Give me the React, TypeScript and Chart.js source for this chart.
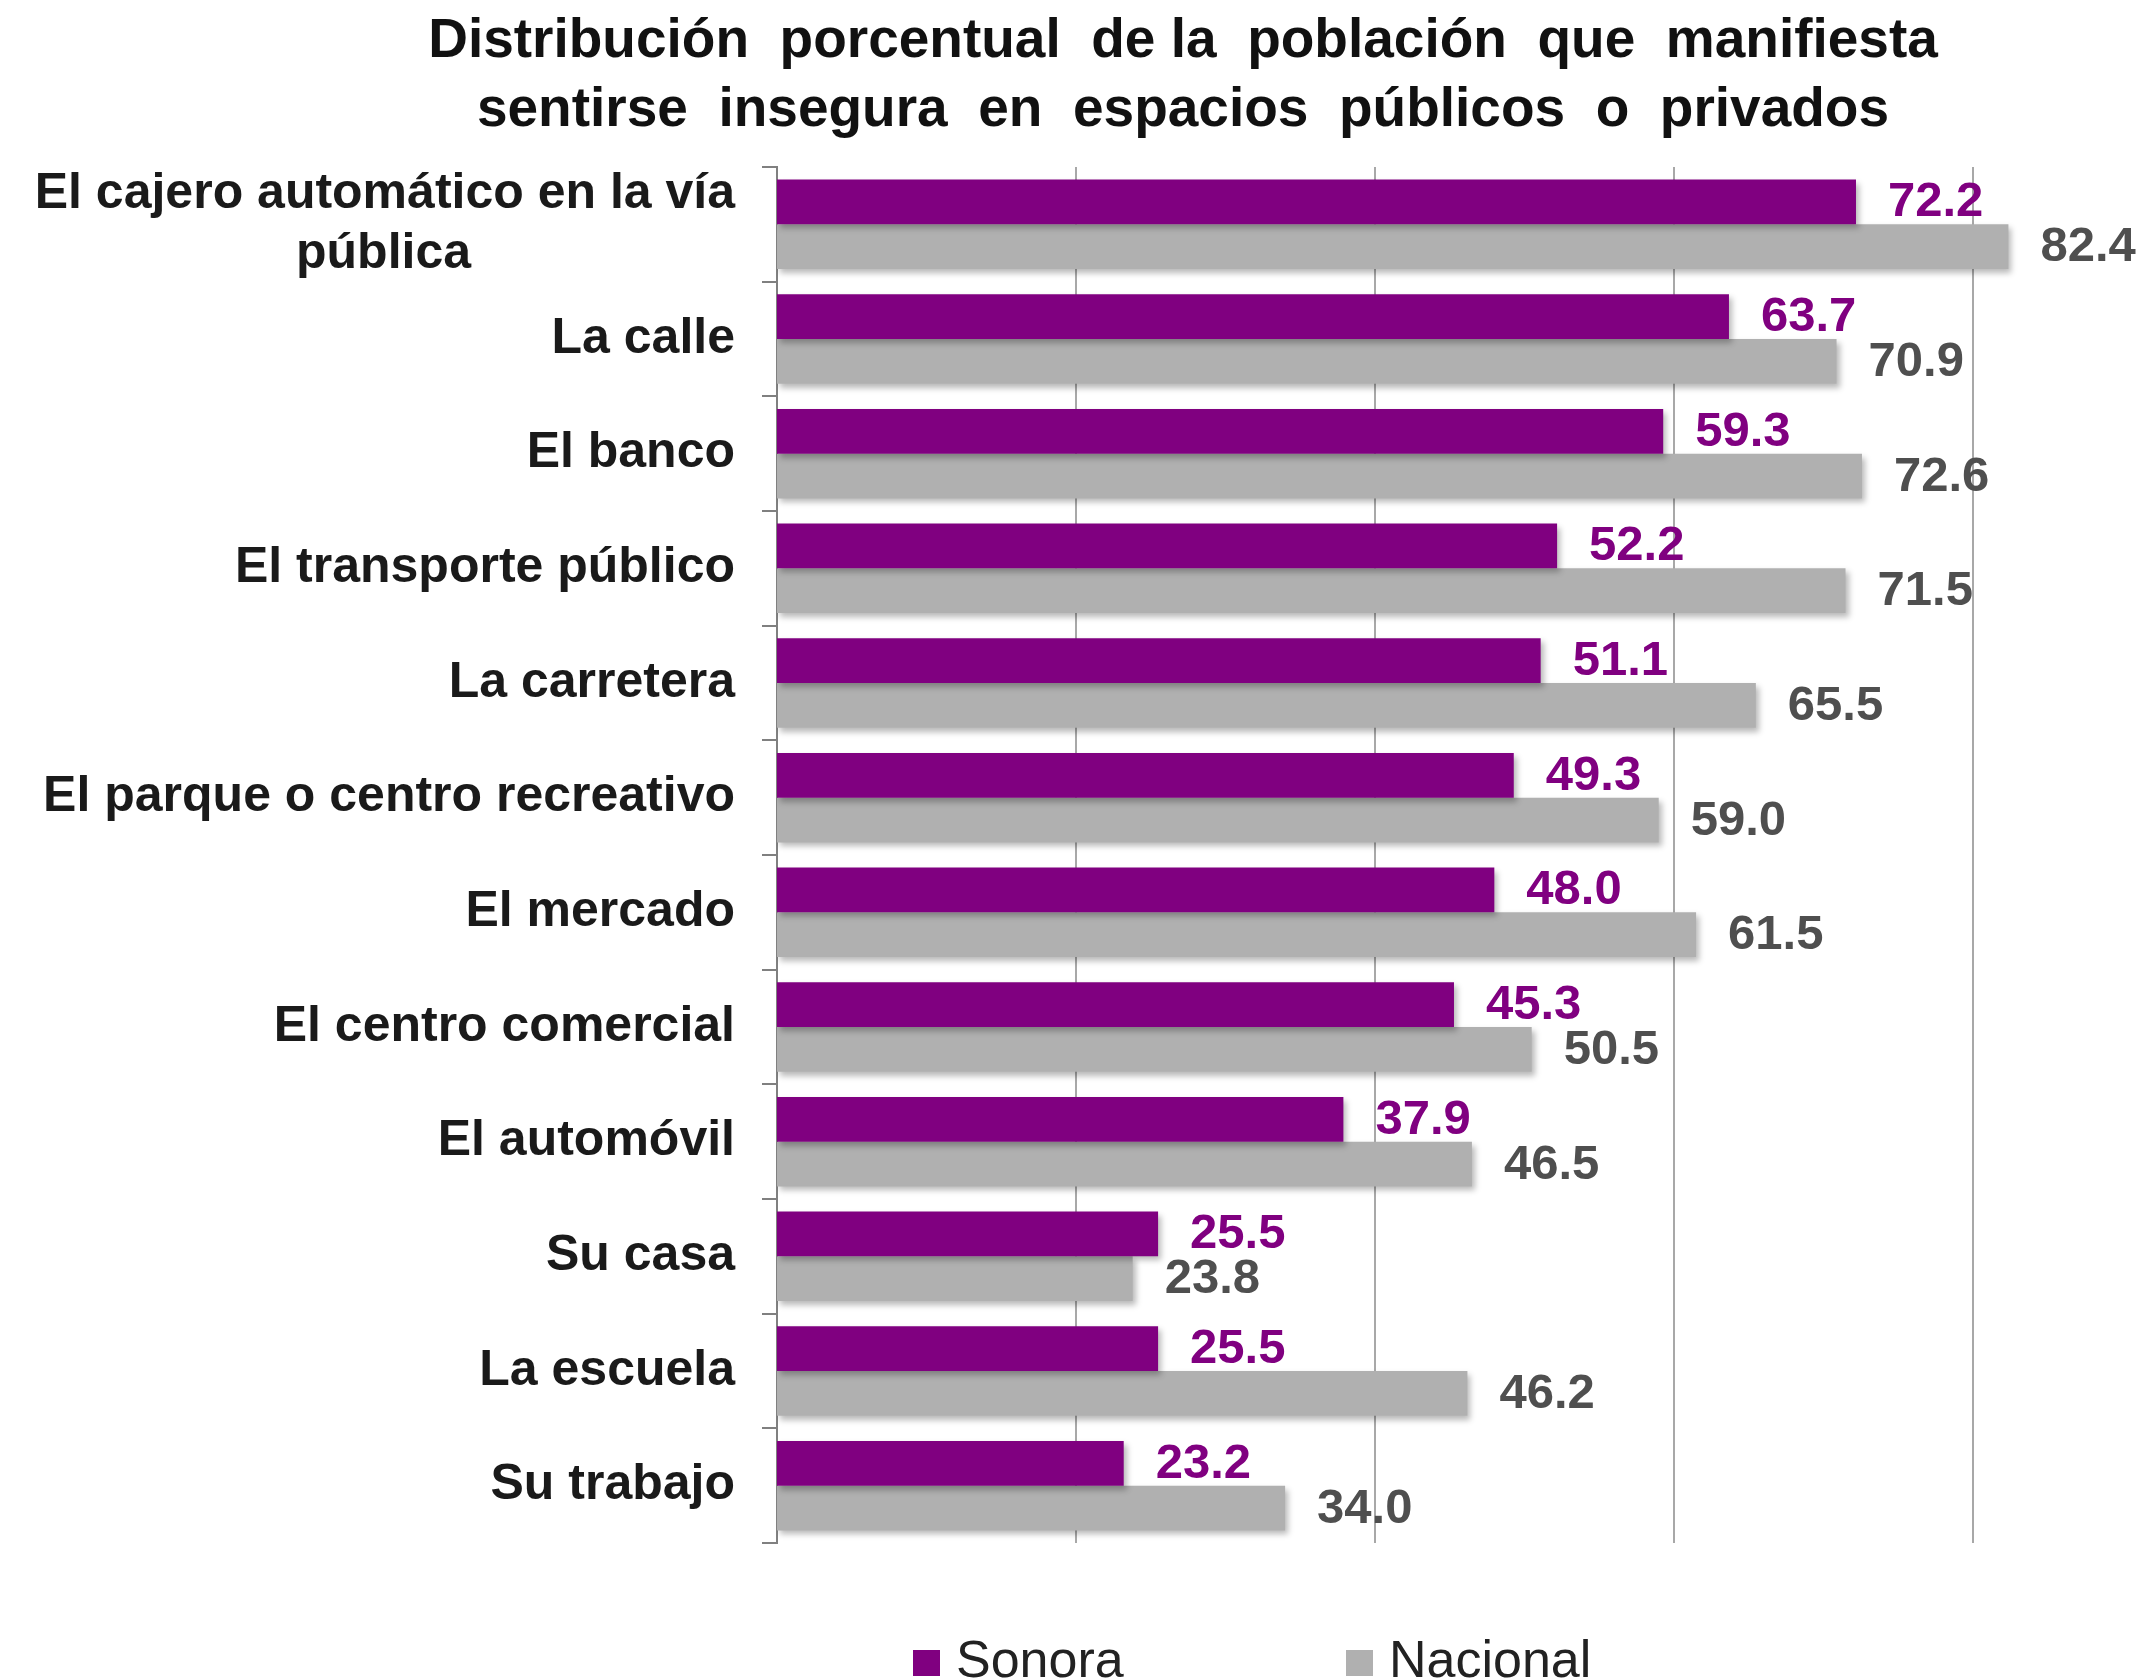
import React, { useEffect, useRef } from "react";
import { Chart, registerables } from "chart.js";

Chart.register(...registerables);

const titleLines = [
  "Distribución  porcentual  de la  población  que  manifiesta",
  "sentirse  insegura  en  espacios  públicos  o  privados",
];

const categories: (string | string[])[] = [
  ["El cajero automático en la vía", "pública"],
  "La calle",
  "El banco",
  "El transporte público",
  "La carretera",
  "El parque o centro recreativo",
  "El mercado",
  "El centro comercial",
  "El automóvil",
  "Su casa",
  "La escuela",
  "Su trabajo",
];

const seriesNames = ["Sonora", "Nacional"];
const sonora = [72.2, 63.7, 59.3, 52.2, 51.1, 49.3, 48.0, 45.3, 37.9, 25.5, 25.5, 23.2];
const nacional = [82.4, 70.9, 72.6, 71.5, 65.5, 59.0, 61.5, 50.5, 46.5, 23.8, 46.2, 34.0];
const barColors = ["#800080", "#b0b0b0"];
const valueLabelColors = ["#800080", "#4f4f4f"];
const gridTicks = [20, 40, 60, 80];

const FONT = "'Liberation Sans', Arial, Helvetica, sans-serif";

const measureCtx = (() => {
  if (typeof document === "undefined") return null;
  const c = document.createElement("canvas");
  return c.getContext("2d");
})();

function centerLines(lines: string[], font: string): string[] {
  if (!measureCtx) return lines;
  measureCtx.font = font;
  const widths = lines.map((l) => measureCtx.measureText(l).width);
  const maxW = Math.max(...widths);
  const sp = measureCtx.measureText(" ").width || 1;
  return lines.map((l, i) => {
    const pad = (maxW - widths[i]) / 2;
    const n = Math.round(pad / sp);
    return l + " ".repeat(n);
  });
}

const titlePlugin = {
  id: "customTitle",
  afterDraw(chart: any) {
    const ctx = chart.ctx;
    ctx.save();
    ctx.font = `bold 55px ${FONT}`;
    ctx.fillStyle = "#111111";
    ctx.textAlign = "center";
    ctx.textBaseline = "alphabetic";
    const cx = 1183;
    const baselines = [57, 126];
    titleLines.forEach((line, i) => ctx.fillText(line, cx, baselines[i]));
    ctx.restore();
  },
};

const shadowPlugin = {
  id: "barShadow",
  beforeDatasetDraw(chart: any) {
    const ctx = chart.ctx;
    ctx.save();
    ctx.shadowColor = "rgba(0,0,0,0.28)";
    ctx.shadowBlur = 6;
    ctx.shadowOffsetX = 3;
    ctx.shadowOffsetY = 4;
  },
  afterDatasetDraw(chart: any) {
    chart.ctx.restore();
  },
};

const valueLabelPlugin = {
  id: "valueLabels",
  afterDatasetsDraw(chart: any) {
    const ctx = chart.ctx;
    ctx.save();
    ctx.font = `bold 49px ${FONT}`;
    ctx.textAlign = "left";
    ctx.textBaseline = "middle";
    chart.data.datasets.forEach((ds: any, di: number) => {
      const meta = chart.getDatasetMeta(di);
      ctx.fillStyle = valueLabelColors[di];
      meta.data.forEach((bar: any, i: number) => {
        const v = ds.data[i];
        ctx.fillText(Number(v).toFixed(1), bar.x + 32, bar.y + 1);
      });
    });
    ctx.restore();
  },
};

const legendPlugin = {
  id: "customLegend",
  afterDraw(chart: any) {
    const ctx = chart.ctx;
    ctx.save();
    ctx.font = `52px ${FONT}`;
    ctx.textAlign = "left";
    ctx.textBaseline = "alphabetic";
    const starts = [913, 1346];
    chart.data.datasets.forEach((ds: any, di: number) => {
      const x = starts[di];
      ctx.fillStyle = ds.backgroundColor;
      ctx.fillRect(x, 1650, 27, 26);
      ctx.fillStyle = "#222222";
      ctx.fillText(ds.label, x + 43, 1677);
    });
    ctx.restore();
  },
};

export default function App() {
  const canvasRef = useRef<HTMLCanvasElement | null>(null);

  useEffect(() => {
    if (!canvasRef.current) return;
    const chart = new Chart(canvasRef.current, {
      type: "bar",
      data: {
        labels: categories,
        datasets: [
          {
            label: seriesNames[0],
            data: sonora,
            backgroundColor: barColors[0],
            borderWidth: 0,
            categoryPercentage: 0.78,
            barPercentage: 1.0,
          },
          {
            label: seriesNames[1],
            data: nacional,
            backgroundColor: barColors[1],
            borderWidth: 0,
            categoryPercentage: 0.78,
            barPercentage: 1.0,
          },
        ],
      },
      options: {
        indexAxis: "y",
        responsive: false,
        animation: false,
        devicePixelRatio: 1,
        layout: { padding: { top: 167, bottom: 137, left: 0, right: 24 } },
        plugins: {
          legend: { display: false },
          title: { display: false },
          tooltip: { enabled: false },
        },
        scales: {
          x: {
            min: 0,
            max: 90,
            afterBuildTicks: (scale: any) => {
              scale.ticks = gridTicks.map((v) => ({ value: v }));
            },
            ticks: { display: false },
            grid: {
              display: true,
              drawTicks: false,
              color: "#a8a8a8",
              lineWidth: 2,
            },
            border: { display: false },
          },
          y: {
            type: "category",
            offset: true,
            afterFit: (scale: any) => {
              scale.width = 777;
            },
            grid: {
              display: true,
              drawOnChartArea: false,
              drawTicks: true,
              tickLength: 15,
              color: "#808080",
              lineWidth: 2,
              offset: true,
            },
            border: { display: true, color: "#808080", width: 2 },
            ticks: {
              autoSkip: false,
              padding: 27,
              color: "#1a1a1a",
              font: { family: FONT, size: 50, weight: "bold", lineHeight: 1.2 },
              callback: function (this: any, value: any, index: number) {
                const lab = categories[index];
                if (Array.isArray(lab)) return centerLines(lab, `bold 50px ${FONT}`);
                return lab;
              },
            },
          },
        },
      },
      plugins: [shadowPlugin, valueLabelPlugin, titlePlugin, legendPlugin],
    } as any);
    return () => chart.destroy();
  }, []);

  return (
    <div style={{ position: "absolute", left: 0, top: 0, width: 2146, height: 1680, background: "#ffffff" }}>
      <canvas ref={canvasRef} width={2146} height={1680} style={{ display: "block" }} />
    </div>
  );
}
